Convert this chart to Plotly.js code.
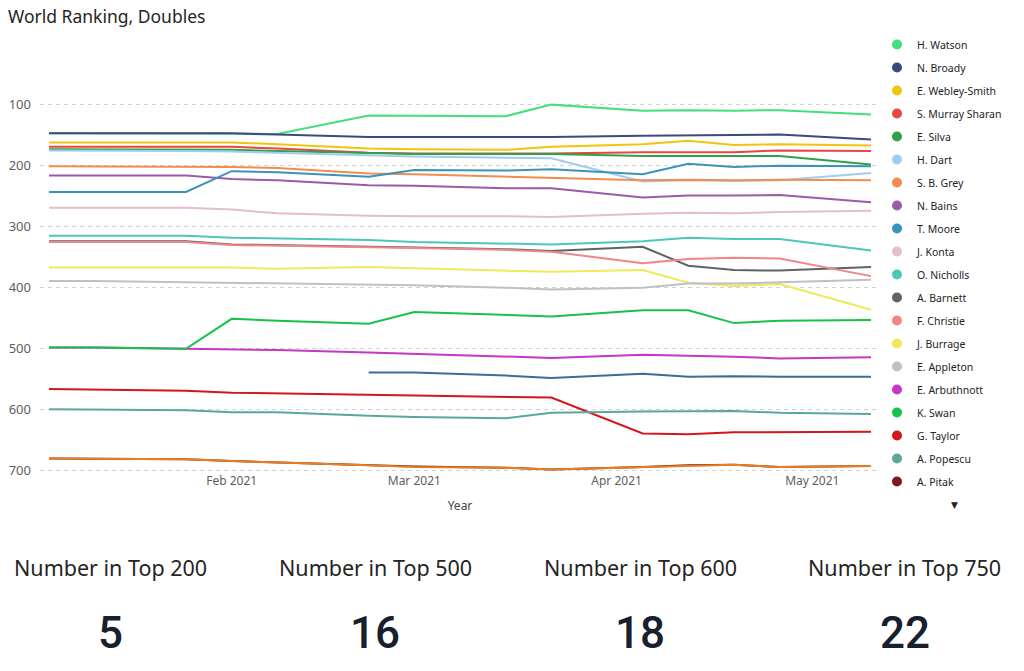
<!DOCTYPE html>
<html>
<head>
<meta charset="utf-8">
<script src="https://cdn.plot.ly/plotly-3.0.1.min.js"></script>
<style>
  html, body { margin: 0; padding: 0; background: #ffffff; }
  #chart { width: 1024px; height: 671px; }
</style>
</head>
<body>
<div id="chart"></div>
<script>
// ---- Data (weekly world ranking, doubles) ----
const dates = ['2021-01-04','2021-01-11','2021-01-25','2021-02-01','2021-02-08','2021-02-22','2021-03-01',
               '2021-03-15','2021-03-22','2021-04-05','2021-04-12','2021-04-19','2021-04-26','2021-05-10'];

const watson      = [148,148,148,148,149,119,119,120,101,111,110,111,110,117];
const broady      = [148,148,148,148,150,154,154,154,154,152,151,151,150,158];
const webleySmith = [163,163,163,163,166,173,174,175,170,166,160,167,166,168];
const murraySharan= [170,170,170,170,173,180,181,181,181,179,179,179,176,177];
const silva       = [174,174,175,175,177,181,182,182,182,185,185,185,185,199];
const dart        = [176,176,177,178,180,185,186,188,189,227,225,226,225,213];
const grey        = [202,202,202,203,205,214,215,219,221,225,224,225,224,225];
const bains       = [217,217,217,223,225,233,234,238,238,253,250,250,249,261];
const moore       = [244,244,244,210,212,219,208,209,207,215,198,203,201,202];
const konta       = [270,270,270,273,279,283,284,284,285,280,278,279,277,275];
const nicholls    = [316,316,316,319,320,323,326,328,330,325,319,321,321,340];
const barnett     = [325,325,325,330,331,333,335,338,341,334,365,372,373,367];
const christie    = [326,326,326,331,332,334,336,339,342,361,354,352,353,382];
const burrage     = [368,368,368,368,370,367,369,373,375,372,393,398,395,437];
const appleton    = [390,390,392,393,394,396,397,401,404,401,394,394,392,388];
const arbuthnott  = [499,499,501,502,503,507,509,513,516,511,512,514,517,515];
const swan        = [499,499,501,452,455,460,441,446,448,438,438,459,455,454];
const taylor      = [567,568,570,573,574,577,578,580,581,640,641,638,638,637];
const popescu     = [600,601,602,605,605,611,613,615,606,604,604,603,606,608];
const pitak       = [681,681,682,685,687,692,694,696,699,695,692,691,695,693];
const player21    = [null,null,null,null,null,540,540,545,549,542,547,546,547,547];
const player22    = [681,681,682,685,687,692,695,696,699,695,692,691,695,693];

const legendNames = ['H. Watson','N. Broady','E. Webley-Smith','S. Murray Sharan','E. Silva','H. Dart',
  'S. B. Grey','N. Bains','T. Moore','J. Konta','O. Nicholls','A. Barnett','F. Christie','J. Burrage',
  'E. Appleton','E. Arbuthnott','K. Swan','G. Taylor','A. Popescu','A. Pitak'];
const legendSeries = [watson,broady,webleySmith,murraySharan,silva,dart,grey,bains,moore,konta,nicholls,
  barnett,christie,burrage,appleton,arbuthnott,swan,taylor,popescu,pitak];
const legendColors = ['#43df7d','#3c4a7e','#f2c40f','#e8463f','#2ea24a','#9fcdf0','#f28d4f','#9c5ba7',
  '#3a93b8','#e3bfc6','#4cc7b8','#5c6466','#f28585','#f1e85a','#c0c0c0','#c537c4','#17c24a','#d3171c',
  '#5ba79d','#7d1a1e'];

// players beyond the visible (scrolled) legend
const extraNames  = ['Player 21','Player 22'];
const extraSeries = [player21, player22];
const extraColors = ['#3e6b97','#e8801f'];

const yTicks = [100,200,300,400,500,600,700];
const xTickVals = ['2021-02-01','2021-03-01','2021-04-01','2021-05-01'];
const xTickLabels = ['Feb 2021','Mar 2021','Apr 2021','May 2021'];

const kpiThresholds = [200,500,600,750];
const kpiLabels = ['Number in Top 200','Number in Top 500','Number in Top 600','Number in Top 750'];

// ---- Build traces ----
const traces = [];
const allSeries = legendSeries.concat(extraSeries);
const allNames = legendNames.concat(extraNames);
const allColors = legendColors.concat(extraColors);
allSeries.forEach((s, i) => {
  traces.push({
    type: 'scatter', mode: 'lines', x: dates, y: s, name: allNames[i],
    line: { color: allColors[i], width: 2 }, showlegend: false, connectgaps: false,
    hovertemplate: '%{y}<extra>' + allNames[i] + '</extra>'
  });
});
legendNames.forEach((n, i) => {
  traces.push({
    type: 'scatter', mode: 'markers', x: [null], y: [null], name: n,
    legendgroup: 'g' + i,
    marker: { color: legendColors[i], size: 10, symbol: 'circle' },
    showlegend: true, hoverinfo: 'skip'
  });
});

// KPI values computed from latest ranking
function lastVal(s) { for (let i = s.length - 1; i >= 0; i--) if (s[i] != null) return s[i]; return null; }
const latest = allSeries.map(lastVal);
const kpiValues = kpiThresholds.map(t => latest.filter(v => v != null && v <= t).length);

const L = 40, T = 43, W = 840, H = 429;
const px = x => (x - L) / W;
const py = y => 1 - (y - T) / H;
const kpiX = [110, 375, 640, 905];

const annotations = [];
kpiLabels.forEach((lab, i) => {
  annotations.push({
    xref: 'paper', yref: 'paper', x: px(kpiX[i]), y: py(567), xanchor: 'center', yanchor: 'middle',
    text: lab, showarrow: false, font: { family: 'Noto Sans, Open Sans, sans-serif', size: 21.5, color: '#252423' }
  });
  annotations.push({
    xref: 'paper', yref: 'paper', x: px(kpiX[i]), y: py(633), xanchor: 'center', yanchor: 'middle',
    text: String(kpiValues[i]), showarrow: false,
    font: { family: 'Roboto, DejaVu Sans Condensed, sans-serif', size: 44, weight: 500, color: '#18202e' }
  });
});
annotations.push({
  xref: 'paper', yref: 'paper', x: px(955), y: py(505), xanchor: 'center', yanchor: 'middle',
  text: '▼', showarrow: false, font: { family: 'DejaVu Sans, sans-serif', size: 9, color: '#252423' }
});

const layout = {
  width: 1024, height: 671,
  margin: { l: L, r: 1024 - L - W, t: T, b: 671 - T - H, pad: 0 },
  paper_bgcolor: '#ffffff', plot_bgcolor: '#ffffff',
  font: { family: 'Noto Sans, Open Sans, sans-serif', color: '#444444' },
  title: {
    text: 'World Ranking, Doubles', xref: 'container', yref: 'container',
    x: 8 / 1024, xanchor: 'left', y: 1 - 17 / 671, yanchor: 'middle',
    font: { family: 'Noto Sans, Open Sans, sans-serif', size: 17.5, color: '#252423' }
  },
  xaxis: {
    type: 'date', range: ['2021-01-02 15:00', '2021-05-11 09:00'],
    tickvals: xTickVals, ticktext: xTickLabels,
    showgrid: false, zeroline: false, showline: false, ticks: '',
    tickfont: { size: 12, color: '#605e5c' },
    title: { text: 'Year', font: { size: 12, color: '#444444' }, standoff: 13 }
  },
  yaxis: {
    range: [703, 0], tickvals: yTicks, ticktext: yTicks.map(String),
    showgrid: true, gridcolor: '#d2d2d2', griddash: '4px,4px', gridwidth: 1,
    zeroline: false, showline: false, ticks: '', ticklabelstandoff: 8,
    tickfont: { size: 13, color: '#605e5c' }
  },
  legend: {
    x: px(877), y: py(30), xanchor: 'left', yanchor: 'top', maxheight: 520,
    bgcolor: 'rgba(0,0,0,0)', borderwidth: 0, tracegroupgap: 4,
    itemwidth: 30, itemclick: false, itemdoubleclick: false,
    font: { family: 'Noto Sans, Open Sans, sans-serif', size: 10.5, color: '#252423' }
  },
  annotations: annotations,
  showlegend: true,
  hovermode: 'closest'
};

Plotly.newPlot('chart', traces, layout, { displayModeBar: false, staticPlot: false });
</script>
</body>
</html>
